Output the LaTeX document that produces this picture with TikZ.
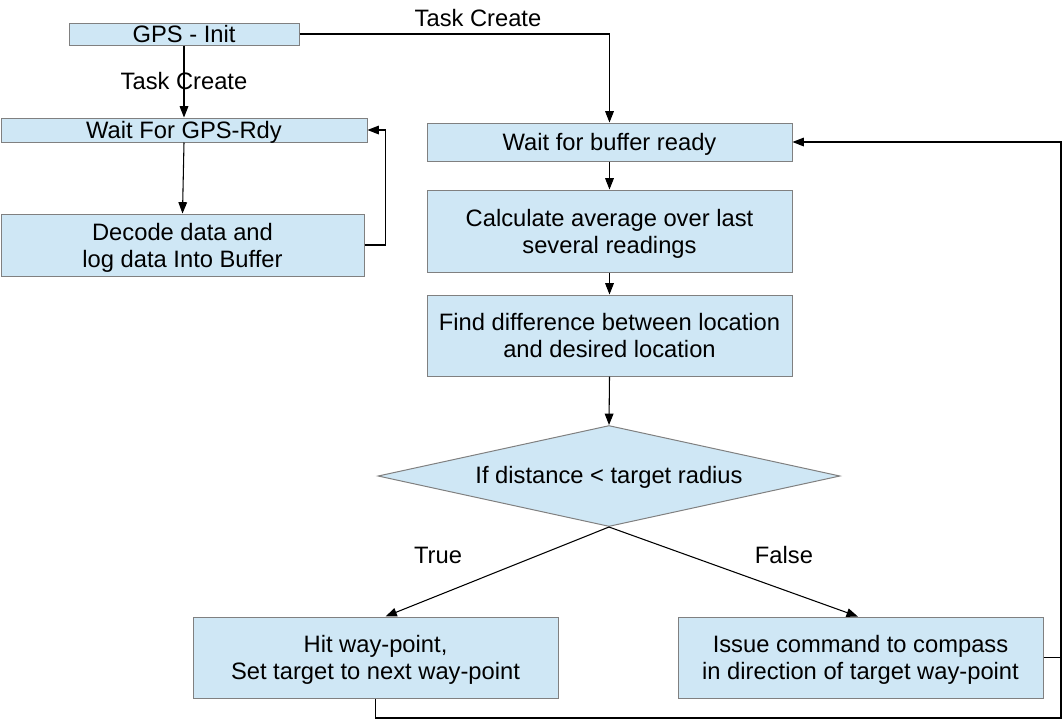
\documentclass[tikz,border=0pt]{standalone}
\usepackage{fontspec}
\setmainfont{Liberation Sans}
\usetikzlibrary{arrows.meta,shapes.geometric}
\definecolor{boxfill}{RGB}{207,231,245}
\definecolor{boxline}{RGB}{128,128,128}
\begin{document}
\begin{tikzpicture}[x=0.75pt,y=-0.75pt,
  every node/.style={font=\fontsize{17.8}{20.3}\selectfont, align=center, inner sep=0pt},
  stepbox/.style={draw=boxline, fill=boxfill, line width=0.75pt, rectangle, text depth=0pt, execute at begin node={\vspace*{2pt}}},
  decbox/.style={draw=boxline, fill=boxfill, line width=0.75pt, diamond},
  arr/.style={-{Triangle[length=8.5pt,width=6.5pt]}, line width=0.8pt},
  ln/.style={line width=0.8pt}]
\useasboundingbox (0,0) rectangle (1063,719);
% boxes
\node[stepbox, minimum width=230*0.75pt, minimum height=22*0.75pt] (init) at (184,34) {GPS - Init};
\node[stepbox, minimum width=366*0.75pt, minimum height=24*0.75pt] (gpsrdy) at (184,130) {Wait For GPS-Rdy};
\node[stepbox, minimum width=363*0.75pt, minimum height=62*0.75pt] (decode) at (182.5,245) {Decode data and\\log data Into Buffer};
\node[stepbox, minimum width=365*0.75pt, minimum height=38*0.75pt] (wbuf) at (609.5,142) {Wait for buffer ready};
\node[stepbox, minimum width=365*0.75pt, minimum height=82*0.75pt] (calc) at (609.5,231) {Calculate average over last\\several readings};
\node[stepbox, minimum width=365*0.75pt, minimum height=81*0.75pt] (diff) at (609.5,335.5) {Find difference between location\\and desired location};
\node[decbox, minimum width=462*0.75pt, minimum height=101*0.75pt] (dec) at (609,476) {};
\node (dectext) at ([yshift=-1pt]dec.center) {If distance < target radius};
\node[stepbox, minimum width=365*0.75pt, minimum height=81*0.75pt] (hit) at (375.5,657.5) {Hit way-point,\\Set target to next way-point};
\node[stepbox, minimum width=365*0.75pt, minimum height=81*0.75pt] (issue) at (860.5,657.5) {Issue command to compass\\in direction of target way-point};
% labels
\node (tc1) at (478,18) {Task Create};
\node (tc2) at (184,81) {Task Create};
\node (tl) at (438,555) {True};
\node (fl) at (784,555) {False};
% connectors
\draw[arr] (init.east) -| (wbuf.north);
\draw[arr] (init.south) -- (gpsrdy.north);
\draw[arr] (gpsrdy.south) -- (decode.north);
\draw[arr] (decode.east) -- ++(21,0) |- (gpsrdy.east);
\draw[arr] (wbuf.south) -- (calc.north);
\draw[arr] (calc.south) -- (diff.north);
\draw[arr] (diff.south) -- (dec.north);
\draw[arr] (dec.south) -- ([xshift=7.5pt]hit.north);
\draw[arr] (dec.south) -- ([xshift=-2pt]issue.north);
\coordinate (br) at (1061,718);
\draw[ln] (issue.east) -- (issue.east -| br);
\draw[arr] (hit.south) |- (br) |- (wbuf.east);
\end{tikzpicture}
\end{document}
